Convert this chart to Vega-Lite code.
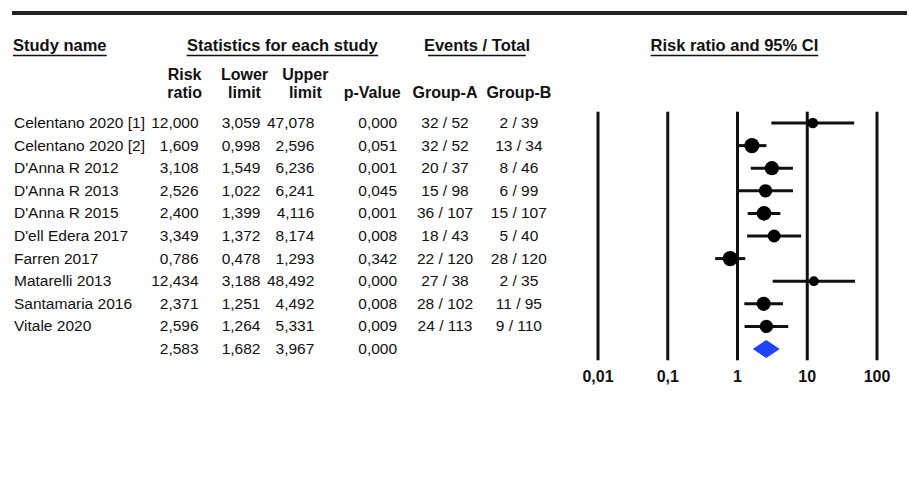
{
  "$schema": "https://vega.github.io/schema/vega-lite/v6.json",
  "width": 909,
  "height": 481,
  "autosize": {"type": "fit", "contains": "padding"},
  "padding": 0,
  "background": "white",
  "config": {
    "view": {"stroke": null},
    "font": "Liberation Sans",
    "locale": {"number": {"decimal": ",", "thousands": ".", "grouping": [3], "currency": ["", " €"]}}
  },
  "datasets": {
    "rows": [
      {"study": "Celentano 2020 [1]", "kind": "study", "rr": 12.000, "lower": 3.059, "upper": 47.078, "p": 0.000, "ga": "32 / 52", "gb": "2 / 39", "weight": 6.3},
      {"study": "Celentano 2020 [2]", "kind": "study", "rr": 1.609, "lower": 0.998, "upper": 2.596, "p": 0.051, "ga": "32 / 52", "gb": "13 / 34", "weight": 12.6},
      {"study": "D'Anna R 2012", "kind": "study", "rr": 3.108, "lower": 1.549, "upper": 6.236, "p": 0.001, "ga": "20 / 37", "gb": "8 / 46", "weight": 11.2},
      {"study": "D'Anna R 2013", "kind": "study", "rr": 2.526, "lower": 1.022, "upper": 6.241, "p": 0.045, "ga": "15 / 98", "gb": "6 / 99", "weight": 9.8},
      {"study": "D'Anna R 2015", "kind": "study", "rr": 2.400, "lower": 1.399, "upper": 4.116, "p": 0.001, "ga": "36 / 107", "gb": "15 / 107", "weight": 11.9},
      {"study": "D'ell Edera 2017", "kind": "study", "rr": 3.349, "lower": 1.372, "upper": 8.174, "p": 0.008, "ga": "18 / 43", "gb": "5 / 40", "weight": 9.2},
      {"study": "Farren 2017", "kind": "study", "rr": 0.786, "lower": 0.478, "upper": 1.293, "p": 0.342, "ga": "22 / 120", "gb": "28 / 120", "weight": 12.6},
      {"study": "Matarelli 2013", "kind": "study", "rr": 12.434, "lower": 3.188, "upper": 48.492, "p": 0.000, "ga": "27 / 38", "gb": "2 / 35", "weight": 5.3},
      {"study": "Santamaria 2016", "kind": "study", "rr": 2.371, "lower": 1.251, "upper": 4.492, "p": 0.008, "ga": "28 / 102", "gb": "11 / 95", "weight": 11.2},
      {"study": "Vitale 2020", "kind": "study", "rr": 2.596, "lower": 1.264, "upper": 5.331, "p": 0.009, "ga": "24 / 113", "gb": "9 / 110", "weight": 9.8},
      {"study": "", "kind": "pooled", "rr": 2.583, "lower": 1.682, "upper": 3.967, "p": 0.000, "ga": "", "gb": "", "weight": 0}
    ],
    "ticks": [{"v": 0.01}, {"v": 0.1}, {"v": 1}, {"v": 10}, {"v": 100}]
  },
  "layer": [
    {
      "layer": [
        {
          "data": {"values": [{}]},
          "mark": {"type": "rule", "strokeWidth": 4, "color": "#222222"},
          "encoding": {
            "x": {"datum": 12, "type": "quantitative", "scale": {"domain": [0, 909], "nice": false, "zero": false}, "axis": null},
            "x2": {"datum": 909},
            "y": {"datum": -3.867, "type": "quantitative", "scale": {"domain": [-4.4425, 16.8407], "reverse": true, "nice": false, "zero": false}, "axis": null}
          }
        },
        {
          "data": {"values": [{}]},
          "mark": {"type": "text", "text": "Study name", "align": "left", "baseline": "middle", "fontSize": 16.5, "fontWeight": "bold", "color": "#111111"},
          "encoding": {
            "x": {"datum": 13, "type": "quantitative", "scale": {"domain": [0, 909], "nice": false, "zero": false}, "axis": null},
            "y": {"datum": -2.407, "type": "quantitative", "scale": {"domain": [-4.4425, 16.8407], "reverse": true, "nice": false, "zero": false}, "axis": null}
          }
        },
        {
          "data": {"values": [{}]},
          "mark": {"type": "text", "text": "Statistics for each study", "align": "center", "baseline": "middle", "fontSize": 16.5, "fontWeight": "bold", "color": "#111111"},
          "encoding": {
            "x": {"datum": 283, "type": "quantitative", "scale": {"domain": [0, 909], "nice": false, "zero": false}, "axis": null},
            "y": {"datum": -2.407, "type": "quantitative", "scale": {"domain": [-4.4425, 16.8407], "reverse": true, "nice": false, "zero": false}, "axis": null}
          }
        },
        {
          "data": {"values": [{}]},
          "mark": {"type": "text", "text": "Events / Total", "align": "center", "baseline": "middle", "fontSize": 16.5, "fontWeight": "bold", "color": "#111111"},
          "encoding": {
            "x": {"datum": 478, "type": "quantitative", "scale": {"domain": [0, 909], "nice": false, "zero": false}, "axis": null},
            "y": {"datum": -2.407, "type": "quantitative", "scale": {"domain": [-4.4425, 16.8407], "reverse": true, "nice": false, "zero": false}, "axis": null}
          }
        },
        {
          "data": {"values": [{}]},
          "mark": {"type": "text", "text": "Risk ratio and 95% CI", "align": "center", "baseline": "middle", "fontSize": 16.5, "fontWeight": "bold", "color": "#111111"},
          "encoding": {
            "x": {"datum": 736, "type": "quantitative", "scale": {"domain": [0, 909], "nice": false, "zero": false}, "axis": null},
            "y": {"datum": -2.407, "type": "quantitative", "scale": {"domain": [-4.4425, 16.8407], "reverse": true, "nice": false, "zero": false}, "axis": null}
          }
        },
        {
          "data": {"values": [{}]},
          "mark": {"type": "rule", "strokeWidth": 1.5, "color": "#111111"},
          "encoding": {
            "x": {"datum": 13, "type": "quantitative", "scale": {"domain": [0, 909], "nice": false, "zero": false}, "axis": null},
            "x2": {"datum": 107},
            "y": {"datum": -1.987, "type": "quantitative", "scale": {"domain": [-4.4425, 16.8407], "reverse": true, "nice": false, "zero": false}, "axis": null}
          }
        },
        {
          "data": {"values": [{}]},
          "mark": {"type": "rule", "strokeWidth": 1.5, "color": "#111111"},
          "encoding": {
            "x": {"datum": 187, "type": "quantitative", "scale": {"domain": [0, 909], "nice": false, "zero": false}, "axis": null},
            "x2": {"datum": 379},
            "y": {"datum": -1.987, "type": "quantitative", "scale": {"domain": [-4.4425, 16.8407], "reverse": true, "nice": false, "zero": false}, "axis": null}
          }
        },
        {
          "data": {"values": [{}]},
          "mark": {"type": "rule", "strokeWidth": 1.5, "color": "#111111"},
          "encoding": {
            "x": {"datum": 429, "type": "quantitative", "scale": {"domain": [0, 909], "nice": false, "zero": false}, "axis": null},
            "x2": {"datum": 527},
            "y": {"datum": -1.987, "type": "quantitative", "scale": {"domain": [-4.4425, 16.8407], "reverse": true, "nice": false, "zero": false}, "axis": null}
          }
        },
        {
          "data": {"values": [{}]},
          "mark": {"type": "rule", "strokeWidth": 1.5, "color": "#111111"},
          "encoding": {
            "x": {"datum": 652, "type": "quantitative", "scale": {"domain": [0, 909], "nice": false, "zero": false}, "axis": null},
            "x2": {"datum": 820},
            "y": {"datum": -1.987, "type": "quantitative", "scale": {"domain": [-4.4425, 16.8407], "reverse": true, "nice": false, "zero": false}, "axis": null}
          }
        },
        {
          "data": {"values": [{}]},
          "mark": {"type": "text", "text": ["Risk", "ratio"], "lineHeight": 18, "align": "center", "baseline": "middle", "fontSize": 16, "fontWeight": "bold", "color": "#111111"},
          "encoding": {
            "x": {"datum": 185, "type": "quantitative", "scale": {"domain": [0, 909], "nice": false, "zero": false}, "axis": null},
            "y": {"datum": -1.124, "type": "quantitative", "scale": {"domain": [-4.4425, 16.8407], "reverse": true, "nice": false, "zero": false}, "axis": null}
          }
        },
        {
          "data": {"values": [{}]},
          "mark": {"type": "text", "text": ["Lower", "limit"], "lineHeight": 18, "align": "center", "baseline": "middle", "fontSize": 16, "fontWeight": "bold", "color": "#111111"},
          "encoding": {
            "x": {"datum": 245, "type": "quantitative", "scale": {"domain": [0, 909], "nice": false, "zero": false}, "axis": null},
            "y": {"datum": -1.124, "type": "quantitative", "scale": {"domain": [-4.4425, 16.8407], "reverse": true, "nice": false, "zero": false}, "axis": null}
          }
        },
        {
          "data": {"values": [{}]},
          "mark": {"type": "text", "text": ["Upper", "limit"], "lineHeight": 18, "align": "center", "baseline": "middle", "fontSize": 16, "fontWeight": "bold", "color": "#111111"},
          "encoding": {
            "x": {"datum": 306, "type": "quantitative", "scale": {"domain": [0, 909], "nice": false, "zero": false}, "axis": null},
            "y": {"datum": -1.124, "type": "quantitative", "scale": {"domain": [-4.4425, 16.8407], "reverse": true, "nice": false, "zero": false}, "axis": null}
          }
        },
        {
          "data": {"values": [{}]},
          "mark": {"type": "text", "text": "p-Value", "align": "center", "baseline": "middle", "fontSize": 16, "fontWeight": "bold", "color": "#111111"},
          "encoding": {
            "x": {"datum": 373, "type": "quantitative", "scale": {"domain": [0, 909], "nice": false, "zero": false}, "axis": null},
            "y": {"datum": -0.327, "type": "quantitative", "scale": {"domain": [-4.4425, 16.8407], "reverse": true, "nice": false, "zero": false}, "axis": null}
          }
        },
        {
          "data": {"values": [{}]},
          "mark": {"type": "text", "text": "Group-A", "align": "center", "baseline": "middle", "fontSize": 16, "fontWeight": "bold", "color": "#111111"},
          "encoding": {
            "x": {"datum": 446, "type": "quantitative", "scale": {"domain": [0, 909], "nice": false, "zero": false}, "axis": null},
            "y": {"datum": -0.327, "type": "quantitative", "scale": {"domain": [-4.4425, 16.8407], "reverse": true, "nice": false, "zero": false}, "axis": null}
          }
        },
        {
          "data": {"values": [{}]},
          "mark": {"type": "text", "text": "Group-B", "align": "center", "baseline": "middle", "fontSize": 16, "fontWeight": "bold", "color": "#111111"},
          "encoding": {
            "x": {"datum": 520, "type": "quantitative", "scale": {"domain": [0, 909], "nice": false, "zero": false}, "axis": null},
            "y": {"datum": -0.327, "type": "quantitative", "scale": {"domain": [-4.4425, 16.8407], "reverse": true, "nice": false, "zero": false}, "axis": null}
          }
        },
        {
          "data": {"name": "rows"},
          "transform": [{"window": [{"op": "row_number", "as": "rn"}]}],
          "mark": {"type": "text", "align": "left", "baseline": "middle", "fontSize": 15.5, "color": "#111111"},
          "encoding": {
            "x": {"datum": 14, "type": "quantitative", "scale": {"domain": [0, 909], "nice": false, "zero": false}, "axis": null},
            "y": {"field": "rn", "type": "quantitative", "scale": {"domain": [-4.4425, 16.8407], "reverse": true, "nice": false, "zero": false}, "axis": null},
            "text": {"field": "study", "type": "nominal"}
          }
        },
        {
          "data": {"name": "rows"},
          "transform": [{"window": [{"op": "row_number", "as": "rn"}]}],
          "mark": {"type": "text", "align": "right", "baseline": "middle", "fontSize": 15.5, "color": "#111111"},
          "encoding": {
            "x": {"datum": 199, "type": "quantitative", "scale": {"domain": [0, 909], "nice": false, "zero": false}, "axis": null},
            "y": {"field": "rn", "type": "quantitative", "scale": {"domain": [-4.4425, 16.8407], "reverse": true, "nice": false, "zero": false}, "axis": null},
            "text": {"field": "rr", "type": "quantitative", "format": ".3f"}
          }
        },
        {
          "data": {"name": "rows"},
          "transform": [{"window": [{"op": "row_number", "as": "rn"}]}],
          "mark": {"type": "text", "align": "right", "baseline": "middle", "fontSize": 15.5, "color": "#111111"},
          "encoding": {
            "x": {"datum": 261, "type": "quantitative", "scale": {"domain": [0, 909], "nice": false, "zero": false}, "axis": null},
            "y": {"field": "rn", "type": "quantitative", "scale": {"domain": [-4.4425, 16.8407], "reverse": true, "nice": false, "zero": false}, "axis": null},
            "text": {"field": "lower", "type": "quantitative", "format": ".3f"}
          }
        },
        {
          "data": {"name": "rows"},
          "transform": [{"window": [{"op": "row_number", "as": "rn"}]}],
          "mark": {"type": "text", "align": "right", "baseline": "middle", "fontSize": 15.5, "color": "#111111"},
          "encoding": {
            "x": {"datum": 315, "type": "quantitative", "scale": {"domain": [0, 909], "nice": false, "zero": false}, "axis": null},
            "y": {"field": "rn", "type": "quantitative", "scale": {"domain": [-4.4425, 16.8407], "reverse": true, "nice": false, "zero": false}, "axis": null},
            "text": {"field": "upper", "type": "quantitative", "format": ".3f"}
          }
        },
        {
          "data": {"name": "rows"},
          "transform": [{"window": [{"op": "row_number", "as": "rn"}]}],
          "mark": {"type": "text", "align": "right", "baseline": "middle", "fontSize": 15.5, "color": "#111111"},
          "encoding": {
            "x": {"datum": 398, "type": "quantitative", "scale": {"domain": [0, 909], "nice": false, "zero": false}, "axis": null},
            "y": {"field": "rn", "type": "quantitative", "scale": {"domain": [-4.4425, 16.8407], "reverse": true, "nice": false, "zero": false}, "axis": null},
            "text": {"field": "p", "type": "quantitative", "format": ".3f"}
          }
        },
        {
          "data": {"name": "rows"},
          "transform": [{"window": [{"op": "row_number", "as": "rn"}]}],
          "mark": {"type": "text", "align": "center", "baseline": "middle", "fontSize": 15.5, "color": "#111111"},
          "encoding": {
            "x": {"datum": 446, "type": "quantitative", "scale": {"domain": [0, 909], "nice": false, "zero": false}, "axis": null},
            "y": {"field": "rn", "type": "quantitative", "scale": {"domain": [-4.4425, 16.8407], "reverse": true, "nice": false, "zero": false}, "axis": null},
            "text": {"field": "ga", "type": "nominal"}
          }
        },
        {
          "data": {"name": "rows"},
          "transform": [{"window": [{"op": "row_number", "as": "rn"}]}],
          "mark": {"type": "text", "align": "center", "baseline": "middle", "fontSize": 15.5, "color": "#111111"},
          "encoding": {
            "x": {"datum": 520, "type": "quantitative", "scale": {"domain": [0, 909], "nice": false, "zero": false}, "axis": null},
            "y": {"field": "rn", "type": "quantitative", "scale": {"domain": [-4.4425, 16.8407], "reverse": true, "nice": false, "zero": false}, "axis": null},
            "text": {"field": "gb", "type": "nominal"}
          }
        }
      ]
    },
    {
      "layer": [
        {
          "data": {"name": "ticks"},
          "mark": {"type": "rule", "strokeWidth": 3, "color": "#111111"},
          "encoding": {
            "x": {"field": "v", "type": "quantitative", "scale": {"type": "log", "domain": [0.01, 100], "range": [598, 877]}, "axis": null},
            "y": {"datum": 0.5, "type": "quantitative", "scale": {"domain": [-4.4425, 16.8407], "reverse": true, "nice": false, "zero": false}, "axis": null},
            "y2": {"datum": 11.5}
          }
        },
        {
          "data": {"name": "ticks"},
          "mark": {"type": "text", "align": "center", "baseline": "middle", "fontSize": 16, "fontWeight": "bold", "color": "#111111"},
          "encoding": {
            "x": {"field": "v", "type": "quantitative", "scale": {"type": "log", "domain": [0.01, 100], "range": [598, 877]}, "axis": null},
            "y": {"datum": 12.239, "type": "quantitative", "scale": {"domain": [-4.4425, 16.8407], "reverse": true, "nice": false, "zero": false}, "axis": null},
            "text": {"field": "v", "type": "quantitative", "format": "~g"}
          }
        },
        {
          "data": {"name": "rows"},
          "transform": [{"window": [{"op": "row_number", "as": "rn"}]}, {"filter": "datum.kind === 'study'"}],
          "mark": {"type": "rule", "strokeWidth": 3, "color": "#111111"},
          "encoding": {
            "x": {"field": "lower", "type": "quantitative", "scale": {"type": "log", "domain": [0.01, 100], "range": [598, 877]}, "axis": null},
            "x2": {"field": "upper"},
            "y": {"field": "rn", "type": "quantitative", "scale": {"domain": [-4.4425, 16.8407], "reverse": true, "nice": false, "zero": false}, "axis": null}
          }
        },
        {
          "data": {"name": "rows"},
          "transform": [{"window": [{"op": "row_number", "as": "rn"}]}, {"filter": "datum.kind === 'study'"}],
          "mark": {"type": "circle", "opacity": 1, "color": "#000000"},
          "encoding": {
            "x": {"field": "rr", "type": "quantitative", "scale": {"type": "log", "domain": [0.01, 100], "range": [598, 877]}, "axis": null},
            "y": {"field": "rn", "type": "quantitative", "scale": {"domain": [-4.4425, 16.8407], "reverse": true, "nice": false, "zero": false}, "axis": null},
            "size": {"field": "weight", "type": "quantitative", "scale": {"domain": [0, 13], "range": [0, 235]}, "legend": null}
          }
        },
        {
          "data": {"name": "rows"},
          "transform": [{"window": [{"op": "row_number", "as": "rn"}]}, {"filter": "datum.kind === 'pooled'"}],
          "mark": {"type": "point", "shape": "M-1,0L0,-0.667L1,0L0,0.667Z", "size": 729, "filled": true, "opacity": 1, "color": "#1f44ff"},
          "encoding": {
            "x": {"field": "rr", "type": "quantitative", "scale": {"type": "log", "domain": [0.01, 100], "range": [598, 877]}, "axis": null},
            "y": {"field": "rn", "type": "quantitative", "scale": {"domain": [-4.4425, 16.8407], "reverse": true, "nice": false, "zero": false}, "axis": null}
          }
        }
      ]
    }
  ],
  "resolve": {"scale": {"x": "independent"}}
}
